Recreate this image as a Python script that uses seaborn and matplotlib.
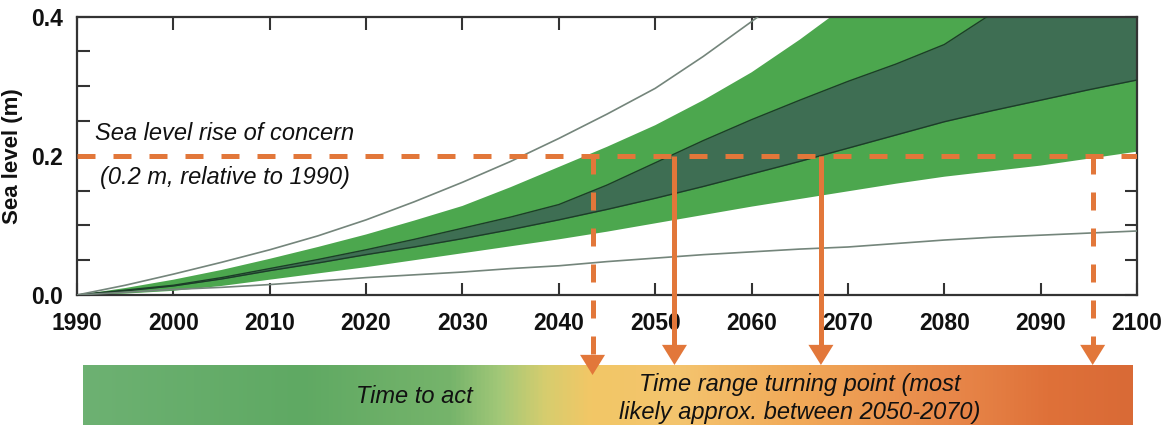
import numpy as np
import matplotlib
matplotlib.use("Agg")
import matplotlib.pyplot as plt
from matplotlib.colors import LinearSegmentedColormap
from matplotlib.ticker import MultipleLocator, FuncFormatter
import seaborn as sns

# Projection years (every 5 years) and curves (sea level in m, relative to 1990)
years = list(range(1990, 2101, 5))
outer_low = [0, 0.002, 0.006, 0.013, 0.022, 0.031, 0.040, 0.050, 0.060, 0.070, 0.080, 0.091,
             0.103, 0.115, 0.127, 0.138, 0.149, 0.160, 0.170, 0.178, 0.186, 0.196, 0.206]
outer_high = [0, 0.010, 0.022, 0.036, 0.052, 0.069, 0.087, 0.107, 0.128, 0.155, 0.184, 0.213,
              0.244, 0.280, 0.320, 0.367, 0.418, 0.470, 0.520, 0.570, 0.620, 0.670, 0.720]
inner_low = [0, 0.006, 0.013, 0.023, 0.035, 0.046, 0.058, 0.069, 0.081, 0.094, 0.108, 0.123,
             0.139, 0.156, 0.174, 0.192, 0.211, 0.230, 0.249, 0.265, 0.280, 0.295, 0.309]
inner_high = [0, 0.007, 0.014, 0.025, 0.038, 0.051, 0.065, 0.080, 0.096, 0.112, 0.130, 0.158,
              0.190, 0.222, 0.252, 0.280, 0.307, 0.332, 0.360, 0.405, 0.455, 0.505, 0.555]
upper_line = [0, 0.014, 0.030, 0.047, 0.065, 0.085, 0.108, 0.134, 0.162, 0.192, 0.225, 0.260,
              0.297, 0.343, 0.393, 0.445]
lower_line = [0, 0.004, 0.008, 0.011, 0.015, 0.020, 0.025, 0.029, 0.033, 0.038, 0.042, 0.048,
              0.053, 0.058, 0.062, 0.066, 0.069, 0.074, 0.079, 0.083, 0.086, 0.089, 0.092]

# Threshold and the years where it is crossed
threshold = 0.2
arrow_years = [2043.5, 2052, 2067.2, 2095.4]
arrow_dashed = [True, False, False, True]
xtick_years = list(range(1990, 2101, 10))

concern_text = ["Sea level rise of concern", "(0.2 m, relative to 1990)"]
bar_left_text = "Time to act"
bar_right_text = ["Time range turning point (most", "likely approx. between 2050-2070)"]

W, H = 1173, 425
orange = "#e2773a"
light_green = "#4ca74e"
dark_green = "#3e6e53"
edge_dark = "#1c3d28"
grey_line = "#74857b"
txt_col = "#111111"

sns.set_style("ticks")
plt.rcParams["font.family"] = ["Liberation Sans", "DejaVu Sans"]
plt.rcParams["font.weight"] = "bold"

fig = plt.figure(figsize=(W / 100, H / 100), dpi=100)
ax = fig.add_axes([77 / W, 1 - 295 / H, 1060 / W, 278.3 / H])
ax.set_zorder(2)

# bands
ax.fill_between(years, outer_low, outer_high, color=light_green, lw=0, zorder=1)
ax.fill_between(years, inner_low, inner_high, color=dark_green, lw=0, zorder=2)
sns.lineplot(x=years, y=inner_low, ax=ax, color=edge_dark, lw=1, zorder=3)
sns.lineplot(x=years, y=inner_high, ax=ax, color=edge_dark, lw=1, zorder=3)
sns.lineplot(x=years[:len(upper_line)], y=upper_line, ax=ax, color=grey_line, lw=1.2, zorder=3)
sns.lineplot(x=years, y=lower_line, ax=ax, color=grey_line, lw=1.2, zorder=3)

ax.set_xlim(years[0], years[-1])
ax.set_ylim(0, 0.4)

# threshold line
ax.hlines(threshold, years[0], years[-1], color=orange, lw=3.6,
          linestyles=[(0, (3.6, 3.6))], zorder=5)

# arrows down to the time bar
def fig_to_data_y(py):
    disp = fig.transFigure.transform((0, 1 - py / H))
    return ax.transData.inverted().transform(disp)[1]

for yr, dashed in zip(arrow_years, arrow_dashed):
    tip_px = 375 if yr < 2045 else 365
    tip = fig_to_data_y(tip_px)
    base = fig_to_data_y(tip_px - 20)
    ls = (0, (3.6, 3.6)) if dashed else "-"
    ax.plot([yr, yr], [threshold, base], color=orange, lw=3.6, ls=ls,
            clip_on=False, zorder=5, solid_capstyle="butt")
    ax.annotate("", xy=(yr, tip), xytext=(yr, base), annotation_clip=False,
                arrowprops=dict(arrowstyle="-|>,head_length=1.45,head_width=0.9",
                                facecolor=orange, edgecolor="none", lw=0,
                                shrinkA=0, shrinkB=0), zorder=6)

# axis styling
ax.set_xticks(xtick_years)
ax.yaxis.set_major_locator(MultipleLocator(0.05))
ax.yaxis.set_major_formatter(FuncFormatter(
    lambda v, p: f"{v:.1f}" if abs(v * 5 - round(v * 5)) < 1e-6 else ""))
ax.tick_params(direction="in", length=9, width=1.5, top=True, right=True,
               labelsize=16.5, color="#333333", labelcolor=txt_col)
ax.tick_params(axis="x", pad=12)
ax.tick_params(axis="y", pad=10)
for s in ax.spines.values():
    s.set_linewidth(1.6)
    s.set_color("#333333")
    s.set_visible(True)
ax.set_ylabel("Sea level (m)", fontsize=16, fontweight="bold", color=txt_col)
ax.yaxis.set_label_coords((23 - 77) / 1060, 0.5)
ax.set_xlabel("")

ax.text(0.1396, 0.582, concern_text[0], transform=ax.transAxes, ha="center",
        va="center", fontsize=17, style="italic", fontweight="normal",
        color=txt_col, zorder=6)
ax.text(0.1396, 0.424, concern_text[1], transform=ax.transAxes, ha="center",
        va="center", fontsize=17, style="italic", fontweight="normal",
        color=txt_col, zorder=6)

# gradient bar
bax = fig.add_axes([83 / W, 0, 1050 / W, 60 / H])
bax.set_zorder(0)
stops = [(0.0, "#6db172"), (0.207, "#5fa963"), (0.35, "#76b46b"), (0.397, "#a3c878"),
         (0.44, "#d6cd6e"), (0.483, "#f2c766"), (0.57, "#f4c46e"), (0.683, "#f1a958"),
         (0.826, "#e8884a"), (0.921, "#df7139"), (1.0, "#d96a36")]
cmap = LinearSegmentedColormap.from_list("bar", stops)
bax.imshow(np.linspace(0, 1, 512)[None, :], aspect="auto", cmap=cmap,
           extent=[0, 1, 0, 1])
bax.set_xlim(0, 1)
bax.set_ylim(0, 1)
bax.axis("off")
bax.text(0.316, 0.47, bar_left_text, ha="center", va="center", fontsize=17,
         style="italic", fontweight="normal", color=txt_col)
bax.text(0.683, 0.683, bar_right_text[0], ha="center", va="center", fontsize=17,
         style="italic", fontweight="normal", color=txt_col)
bax.text(0.683, 0.20, bar_right_text[1], ha="center", va="center", fontsize=17,
         style="italic", fontweight="normal", color=txt_col)

fig.savefig("out.png", dpi=100)
